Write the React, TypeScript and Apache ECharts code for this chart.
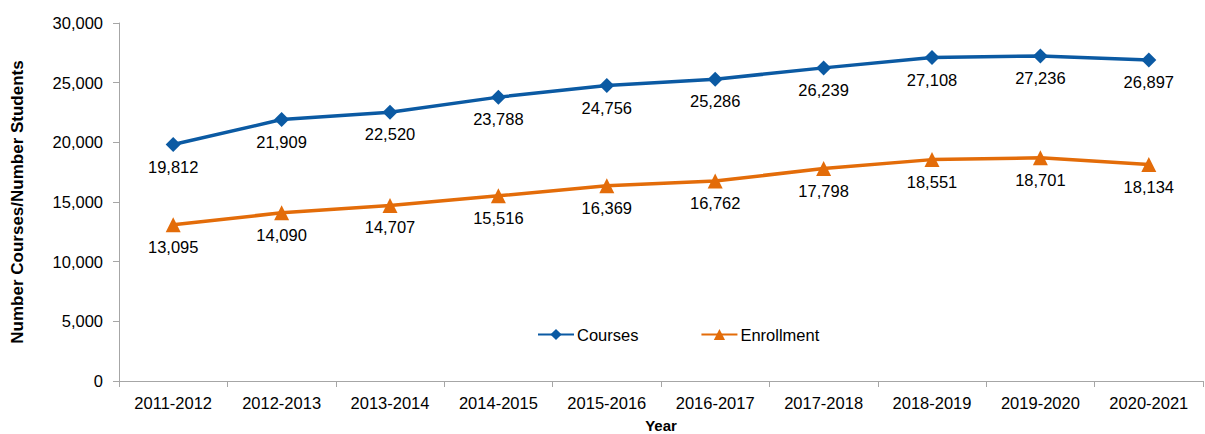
import React, { useEffect, useRef } from "react";
import * as echarts from "echarts";

const years = ["2011-2012","2012-2013","2013-2014","2014-2015","2015-2016","2016-2017","2017-2018","2018-2019","2019-2020","2020-2021"];
const courses = [19812, 21909, 22520, 23788, 24756, 25286, 26239, 27108, 27236, 26897];
const enrollment = [13095, 14090, 14707, 15516, 16369, 16762, 17798, 18551, 18701, 18134];

const FONT = "Liberation Sans, Arial, sans-serif";
const BLUE = "#0b5aa3";
const ORANGE = "#e36c09";

export default function App() {
  const ref = useRef<HTMLDivElement>(null);
  useEffect(() => {
    const chart = echarts.init(ref.current!, null, { renderer: "svg" });
    const fmt = (p: any) => Number(p.value).toLocaleString("en-US");
    chart.setOption({
      animation: false,
      textStyle: { fontFamily: FONT },
      grid: { left: 119, right: 2, top: 23, bottom: 53, containLabel: false, outerBoundsMode: "none" },
      legend: {
        left: 532, top: 321, itemGap: 62, itemWidth: 36, itemHeight: 14,
        textStyle: { fontFamily: FONT, fontSize: 16.5, color: "#000", padding: [0, 0, 0, -2] },
        data: ["Courses", "Enrollment"],
      },
      xAxis: {
        type: "category", data: years, boundaryGap: true,
        name: "Year", nameLocation: "middle", nameGap: 37,
        nameTextStyle: { fontFamily: FONT, fontSize: 15, fontWeight: "bold", color: "#000" },
        axisLine: { lineStyle: { color: "#a6a6a6", width: 1 } },
        axisTick: { show: true, length: 6, lineStyle: { color: "#a6a6a6" } },
        axisLabel: { fontFamily: FONT, fontSize: 16.5, color: "#000", margin: 13 },
      },
      yAxis: {
        type: "value", min: 0, max: 30000, interval: 5000,
        name: "Number Courses/Number Students", nameLocation: "middle", nameGap: 93,
        nameTextStyle: { fontFamily: FONT, fontSize: 17, fontWeight: "bold", color: "#000" },
        axisLine: { show: true, lineStyle: { color: "#a6a6a6", width: 1 } },
        axisTick: { show: true, length: 6, lineStyle: { color: "#a6a6a6" } },
        splitLine: { show: false },
        axisLabel: { fontFamily: FONT, fontSize: 16.5, color: "#000", margin: 16, formatter: (v: number) => v.toLocaleString("en-US") },
      },
      series: [
        {
          name: "Courses", type: "line", data: courses,
          symbol: "diamond", symbolSize: 15,
          lineStyle: { color: BLUE, width: 3.5 }, itemStyle: { color: BLUE },
          label: { show: true, position: "bottom", distance: 6, fontFamily: FONT, fontSize: 16.5, color: "#000", formatter: fmt },
        },
        {
          name: "Enrollment", type: "line", data: enrollment,
          symbol: "triangle", symbolSize: 15,
          lineStyle: { color: ORANGE, width: 3.5 }, itemStyle: { color: ORANGE },
          label: { show: true, position: "bottom", distance: 6, fontFamily: FONT, fontSize: 16.5, color: "#000", formatter: fmt },
        },
      ],
    });
    return () => chart.dispose();
  }, []);
  return <div ref={ref} style={{ width: 1205, height: 434, position: "absolute", left: 0, top: 0 }} />;
}
